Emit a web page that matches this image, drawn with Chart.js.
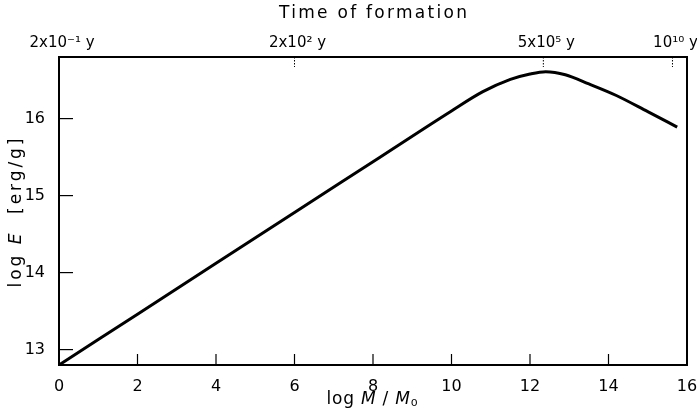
<!DOCTYPE html>
<html><head><meta charset="utf-8">
<script src="https://cdn.jsdelivr.net/npm/chart.js@4/dist/chart.umd.min.js"></script>
<style>html,body{margin:0;padding:0;background:#fff}#wrap{width:697px;height:414px}</style>
</head><body><div id="wrap"><canvas id="c" width="697" height="414"></canvas></div>
<script>
// Data
const logM = [0, 2, 4, 6, 8, 10, 10.8, 11.5, 12.0, 12.4, 12.9, 13.5, 14.2, 15.0, 15.75];
const logE = [12.8, 13.46, 14.12, 14.78, 15.44, 16.1, 16.35, 16.51, 16.58, 16.61, 16.57, 16.45, 16.30, 16.09, 15.89];
const xTicks = [0, 2, 4, 6, 8, 10, 12, 14, 16];
const yTicks = [13, 14, 15, 16];
const topTickPos = [0, 6, 12.34, 15.63];
const topTickLabels = ['2x10\u207B\u00B9 y', '2x10\u00B2 y', '5x10\u2075 y', '10\u00B9\u2070 y'];

const FONT = "'DejaVu Sans', sans-serif";

function drawRich(ctx, segs, cx, cy, rot, target, size) {
  ctx.save();
  ctx.translate(cx, cy);
  ctx.rotate(rot);
  ctx.textBaseline = 'middle';
  ctx.textAlign = 'left';
  ctx.fillStyle = '#000';
  let nat = 0, n = 0;
  segs.forEach(s => { ctx.font = (s.i ? 'italic ' : '') + size + 'px ' + FONT; nat += ctx.measureText(s.t).width; n += s.t.length; });
  const sp = Math.max(0, (target - nat) / Math.max(1, n - 1));
  ctx.letterSpacing = sp + 'px';
  let x = -target / 2;
  segs.forEach(s => {
    ctx.font = (s.i ? 'italic ' : '') + size + 'px ' + FONT;
    ctx.fillText(s.t, x, s.dy || 0);
    x += ctx.measureText(s.t).width;
  });
  ctx.restore();
}

const frameTicks = {
  id: 'frameTicks',
  afterDraw(chart) {
    const { ctx, chartArea: a, scales } = chart;
    const line = (x1, y1, x2, y2) => { ctx.beginPath(); ctx.moveTo(x1, y1); ctx.lineTo(x2, y2); ctx.stroke(); };
    ctx.save();
    ctx.strokeStyle = '#000';
    ctx.lineWidth = 2;
    ctx.strokeRect(a.left, a.top, a.right - a.left, a.bottom - a.top);
    ctx.lineWidth = 1.2;
    xTicks.forEach(v => { const px = scales.x.getPixelForValue(v); line(px, a.bottom, px, a.bottom - 11); });
    yTicks.forEach(v => { const py = scales.y.getPixelForValue(v); line(a.left, py, a.left + 14, py); });
    ctx.setLineDash([1.5, 1.5]);
    ctx.lineWidth = 1;
    topTickPos.forEach(v => { const px = scales.x2.getPixelForValue(v); line(px, a.top, px, a.top + 10); });
    ctx.restore();
    const midX = (a.left + a.right) / 2, midY = (a.top + a.bottom) / 2;
    drawRich(ctx, [{ t: 'Time of formation' }], midX, 14, 0, 188, 17);
    drawRich(ctx, [{ t: 'log ' }, { t: 'M', i: true }, { t: ' / ' }, { t: 'M', i: true }, { t: '\u2080', dy: 2 }], midX - 1, 400, 0, 91, 17);
    drawRich(ctx, [{ t: 'log ' }, { t: 'E', i: true }, { t: '  [erg/g]' }], 17, midY + 2, -Math.PI / 2, 149, 17);
  }
};

const noPadX = s => { s.paddingLeft = 0; s.paddingRight = 0; };

new Chart(document.getElementById('c'), {
  type: 'line',
  data: {
    datasets: [{
      data: logM.map((x, i) => ({ x, y: logE[i] })),
      borderColor: '#000',
      borderWidth: 3,
      pointRadius: 0,
      fill: false,
      cubicInterpolationMode: 'monotone'
    }]
  },
  options: {
    responsive: false,
    animation: false,
    layout: { padding: { left: 0, right: 10, top: 0, bottom: 0 } },
    plugins: { legend: { display: false }, tooltip: { enabled: false } },
    scales: {
      x: {
        type: 'linear', position: 'bottom', min: 0, max: 16,
        afterBuildTicks: s => { s.ticks = xTicks.map(v => ({ value: v })); },
        afterFit: s => { s.height = 49; noPadX(s); },
        grid: { display: false },
        border: { display: false },
        ticks: { color: '#000', font: { family: FONT, size: 16 }, padding: 4, maxRotation: 0, autoSkip: false }
      },
      x2: {
        type: 'linear', position: 'top', min: 0, max: 16,
        afterBuildTicks: s => { s.ticks = topTickPos.map(v => ({ value: v })); },
        afterFit: s => { s.height = 57; noPadX(s); },
        grid: { display: false },
        border: { display: false },
        ticks: { color: '#000', font: { family: FONT, size: 15 }, padding: -3, maxRotation: 0, autoSkip: false, labelOffset: 3,
          callback: (v, i) => topTickLabels[i] }
      },
      y: {
        type: 'linear', position: 'left', min: 12.8, max: 16.8,
        afterBuildTicks: s => { s.ticks = yTicks.map(v => ({ value: v })); },
        afterFit: s => { s.width = 59; s.paddingTop = 0; s.paddingBottom = 0; },
        grid: { display: false },
        border: { display: false },
        ticks: { color: '#000', font: { family: FONT, size: 16 }, padding: 6, autoSkip: false }
      }
    }
  },
  plugins: [frameTicks]
});
</script>
</body></html>
